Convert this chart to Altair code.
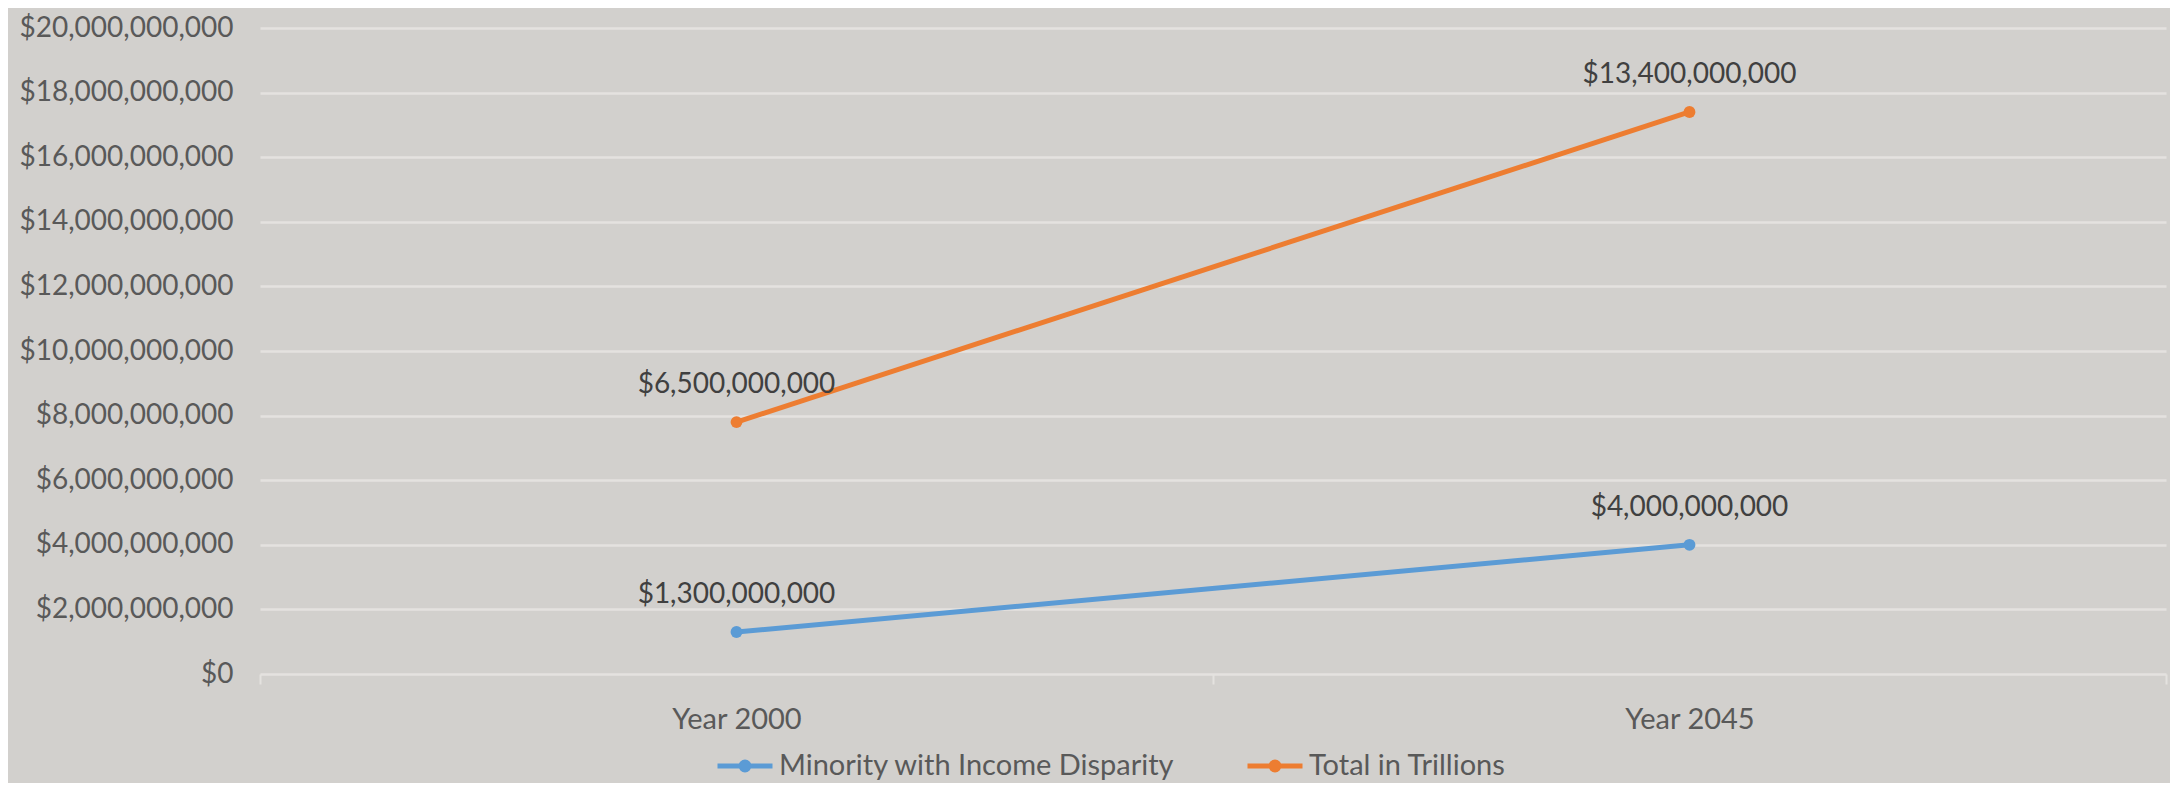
import altair as alt
import pandas as pd

years = ["Year 2000", "Year 2045"]
series = ["Minority with Income Disparity", "Total in Trillions"]
minority = [1.3e9, 4.0e9]
total = [6.5e9, 13.4e9]
colors = ["#5B9BD5", "#ED7D31"]
y_ticks = [i * 2e9 for i in range(11)]

rows = []
for i, y in enumerate(years):
    rows.append({"year": y, "series": series[0], "value": minority[i], "ord": 0})
    rows.append({"year": y, "series": series[1], "value": total[i], "ord": 1})
df = pd.DataFrame(rows)

FONT = "Lato"

base = alt.Chart(df).transform_stack(
    stack="value", groupby=["year"], as_=["y0", "y1"], sort=[alt.SortField("ord")]
)

x = alt.X("year:N", sort=years, title=None,
          axis=alt.Axis(labelAngle=0, labelFontSize=29, labelColor="#595959", labelFont=FONT,
                        labelPadding=21, domain=False, ticks=True, tickBand="extent",
                        tickSize=10, tickColor="#E4E2DF", tickWidth=2))
y = alt.Y("y1:Q", title=None,
          scale=alt.Scale(domain=[0, 2e10], nice=False, zero=True),
          axis=alt.Axis(values=y_ticks, format="$,.0f", labelFontSize=28, labelColor="#595959",
                        labelFont=FONT, labelPadding=27, labelLimit=400, domain=False, ticks=False,
                        grid=True, gridColor="#E4E2DF", gridWidth=2.5))

sym_path = ("M-1,0 L1,0 "
            "M-0.055,0 A0.055,0.055 0 1,1 0.055,0 A0.055,0.055 0 1,1 -0.055,0 "
            "M-0.145,0 A0.145,0.145 0 1,1 0.145,0 A0.145,0.145 0 1,1 -0.145,0")

color = alt.Color("series:N", sort=series, title=None,
                  scale=alt.Scale(domain=series, range=colors),
                  legend=alt.Legend(orient="none", legendX=455, legendY=708, direction="horizontal",
                                    padding=0, labelFontSize=29, labelFont=FONT, labelColor="#595959",
                                    symbolType=sym_path, symbolSize=3025, symbolStrokeWidth=5,
                                    symbolOpacity=1, columnPadding=62, labelOffset=4, labelLimit=600))
fill = alt.Fill("series:N", sort=series, legend=None,
                scale=alt.Scale(domain=series, range=colors))

line = base.mark_line(strokeWidth=5).encode(x=x, y=y, color=color, detail="series:N")
pts = base.mark_circle(size=140, opacity=1).encode(x=x, y=y, fill=fill)
labels = base.mark_text(fontSize=28, font=FONT, color="#404040", dy=-37, baseline="middle").encode(
    x=x, y=y, text=alt.Text("value:Q", format="$,.0f"))

chart = alt.layer(line, pts, labels).properties(
    width=1906, height=646,
    autosize=alt.AutoSizeParams(type="none"),
    padding={"left": 252, "top": 20, "right": 4, "bottom": 109},
    background="#D2D0CD",
).configure_view(stroke=None)

chart.save("out.html", embed_options={"renderer": "svg", "actions": False})
